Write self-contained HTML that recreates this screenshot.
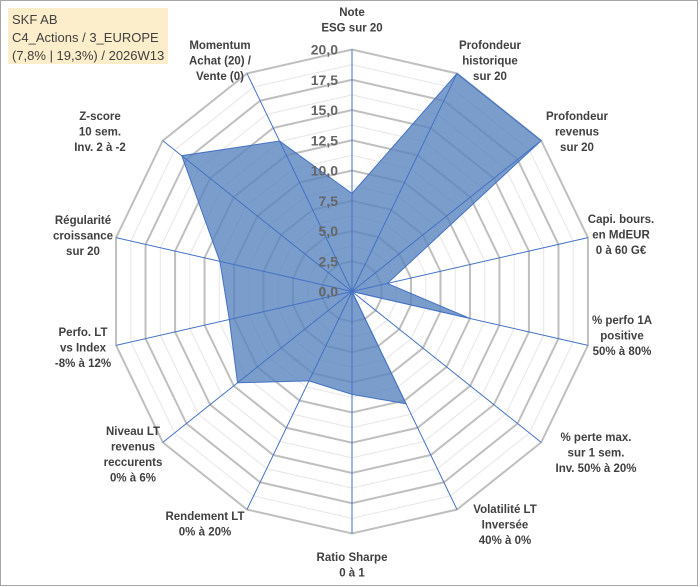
<!DOCTYPE html>
<html><head><meta charset="utf-8"><style>
body{margin:0;background:#fff;}
#wrap{position:relative;width:700px;height:587px;overflow:hidden;font-family:"Liberation Sans",Arial,sans-serif;}
svg{position:absolute;left:0;top:0;}
</style></head><body>
<div id="wrap">
<svg id="chart" width="700" height="587"></svg>
</div>
<script>
const categories = [
 ["Note","ESG sur 20"],
 ["Profondeur","historique","sur 20"],
 ["Profondeur","revenus","sur 20"],
 ["Capi. bours.","en MdEUR","0 à 60 G€"],
 ["% perfo 1A","positive","50% à 80%"],
 ["% perte max.","sur 1 sem.","Inv. 50% à 20%"],
 ["Volatilité LT","Inversée","40% à 0%"],
 ["Ratio Sharpe","0 à 1"],
 ["Rendement LT","0% à 20%"],
 ["Niveau LT","revenus","reccurents","0% à 6%"],
 ["Perfo. LT","vs Index","-8% à 12%"],
 ["Régularité","croissance","sur 20"],
 ["Z-score","10 sem.","Inv. 2 à -2"],
 ["Momentum","Achat (20) /","Vente (0)"]
];
const values = [8.1, 20, 20, 3, 10, 0, 10.3, 8.5, 8.2, 12.1, 10.4, 11.2, 18, 13.8];
const tickLabels = ["0,0","2,5","5,0","7,5","10,0","12,5","15,0","17,5","20,0"];
const maxVal = 20;
</script>
<script>
const NS="http://www.w3.org/2000/svg";
const svg=document.getElementById('chart');
const cx=352, cy=291.5, R=242;
const labelAnchors=[[352,12],[490,45],[577,116],[621,219],[622,320],[596,437],[505,509],[352,557],[205,516],[133,431],[83,332],[83,220],[100,116],[220,45]];
function rScale(v){return v/maxVal*R;}
function pt(i,v){const a=i*2*Math.PI/categories.length;return [cx+rScale(v)*Math.sin(a),cy-rScale(v)*Math.cos(a)];}
function mk(tag,attrs){const e=document.createElementNS(NS,tag);for(const k in attrs)e.setAttribute(k,attrs[k]);svg.appendChild(e);return e;}
let fr=mk('rect',{x:0.5,y:0.5,width:697,height:585,fill:'#fff',stroke:'#a6a6a6','stroke-width':1});


const n=categories.length;
for(let k=1;k<=16;k++){
  const v=k*1.25;const pts=[];
  for(let i=0;i<n;i++)pts.push(pt(i,v).join(','));
  const major=k%2===0;
  const p=mk('polygon',{points:pts.join(' '),fill:'none',stroke:major?'#bfbfbf':'#e6e6e6','stroke-width':major?2:1});
  
  
}
const sp=values.map((v,i)=>pt(i,v).join(',')).join(' ');
const poly=mk('polygon',{points:sp,fill:'#5a85bf','fill-opacity':0.8,stroke:'#4472c4','stroke-width':1});


for(let i=0;i<n;i++){
  const [x,y]=pt(i,maxVal);
  const l=mk('line',{x1:cx,y1:cy,x2:x,y2:y,stroke:'#4472c4','stroke-width':1});
  
  
}
tickLabels.forEach((t,k)=>{
  const y=cy-rScale(k*2.5);
  const tx=mk('text',{x:338,y:y+5,'text-anchor':'end','font-size':14,'font-weight':'bold',fill:'#666666'});
  tx.textContent=t;
  
  
});
categories.forEach((lines,i)=>{
  const [x,y]=labelAnchors[i];
  const g=mk('text',{x:x,y:y+4,'text-anchor':'middle','font-size':11.5,'font-weight':'bold',fill:'#404040'});
  
  
  lines.forEach((s,j)=>{const ts=document.createElementNS(NS,'tspan');ts.setAttribute('x',x);ts.setAttribute('y',y+4+j*15.5);ts.textContent=s;g.appendChild(ts);});
});
const tb=mk('rect',{x:8,y:8,width:160,height:56,fill:'#fdeecb'});


["SKF AB","C4_Actions / 3_EUROPE","(7,8% | 19,3%) / 2026W13"].forEach((s,j)=>{
  const t=mk('text',{x:12,y:24+j*18,'font-size':13,fill:'#404040'});
  t.textContent=s;
  
  
});
</script>
</body></html>
